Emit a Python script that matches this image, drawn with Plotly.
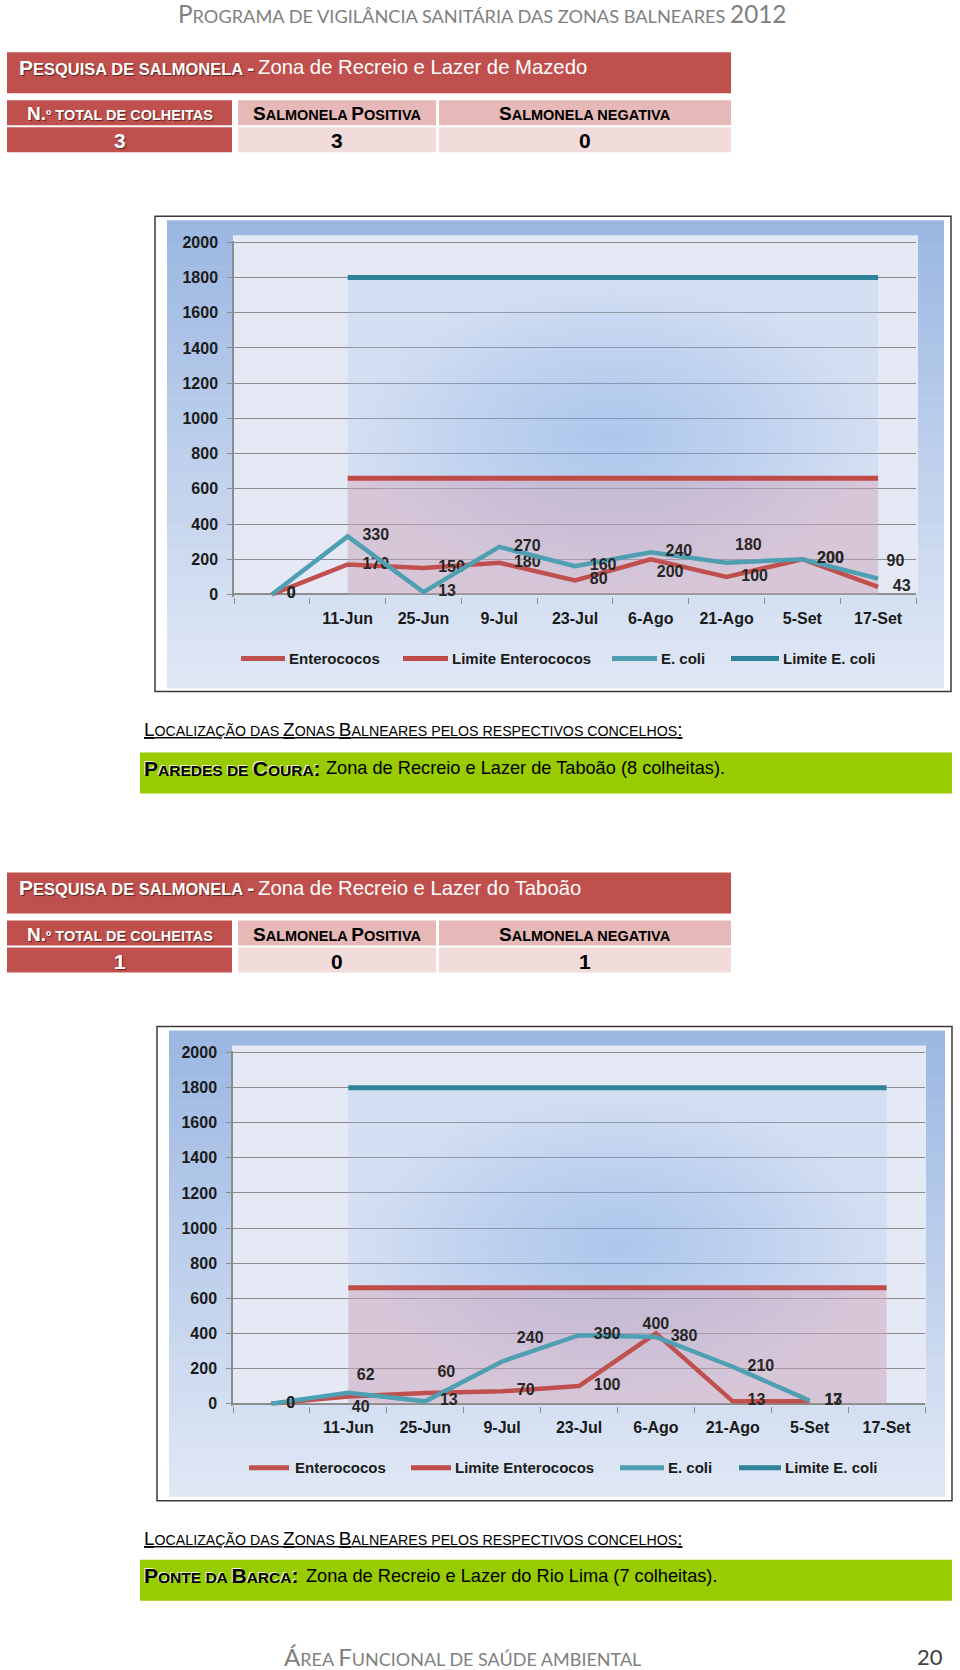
import plotly.graph_objects as go

W, H = 960, 1670

# ---------------- data ----------------
header_text = "Programa de vigilância sanitária das zonas balneares 2012"
footer_text = "Área Funcional de saúde ambiental"
page_number = "20"

table_cols = ["N.º total de colheitas", "Salmonela Positiva", "Salmonela negativa"]
table_prefix = "Pesquisa de salmonela -"
t1_title = "Zona de Recreio e Lazer de Mazedo"
t1_values = ["3", "3", "0"]
t2_title = "Zona de Recreio e Lazer do Taboão"
t2_values = ["1", "0", "1"]

loc_label = "Localização das Zonas Balneares pelos respectivos concelhos:"
loc1_bold = "Paredes de Coura:"
loc1_text = "Zona de Recreio e Lazer de Taboão (8 colheitas)."
loc2_bold = "Ponte da Barca:"
loc2_text = "Zona de Recreio e Lazer do Rio Lima (7 colheitas)."

categories = ["", "11-Jun", "25-Jun", "9-Jul", "23-Jul", "6-Ago", "21-Ago", "5-Set", "17-Set"]
series_names = ["Enterococos", "Limite Enterococos", "E. coli", "Limite E. coli"]
y_ticks = [0, 200, 400, 600, 800, 1000, 1200, 1400, 1600, 1800, 2000]

c1_enterococos = [0, 170, 150, 180, 80, 200, 100, 200, 43]
c1_ecoli = [0, 330, 13, 270, 160, 240, 180, 200, 90]
c1_lim_entero = [None, 660, 660, 660, 660, 660, 660, 660, 660]
c1_lim_ecoli = [None, 1800, 1800, 1800, 1800, 1800, 1800, 1800, 1800]

c2_enterococos = [0, 40, 60, 70, 100, 400, 13, 13, None]
c2_ecoli = [0, 62, 13, 240, 390, 380, 210, 17, None]
c2_lim_entero = [None, 660, 660, 660, 660, 660, 660, 660, 660]
c2_lim_ecoli = [None, 1800, 1800, 1800, 1800, 1800, 1800, 1800, 1800]

# label placement (style only): position and offset size per point
MR, TR, BR, TC = "middle right", "top right", "bottom right", "top center"
c1_ent_pos = [MR, MR, MR, MR, MR, BR, MR, MR, MR]
c1_ent_off = [22, 22, 22, 22, 22, 8, 22, 22, 22]
c1_eco_pos = [MR, MR, MR, MR, MR, MR, TR, MR, TR]
c1_eco_off = [22, 22, 22, 22, 22, 22, 12, 22, 12]
c2_ent_pos = [MR, BR, TR, MR, MR, TC, MR, MR, MR]
c2_ent_off = [22, 4, 18, 22, 22, 0, 22, 22, 22]
c2_eco_pos = [MR, TR, MR, TR, MR, MR, MR, MR, MR]
c2_eco_off = [22, 12, 22, 22, 22, 22, 22, 22, 22]

# ---------------- styles ----------------
RED = "#c0504d"
PINK_H = "#e6b8b7"
PINK_V = "#f2dcdb"
GREEN = "#99cc00"
C_ENT = "#c0504d"
C_LENT = "#bf4b48"
C_ECO = "#4f9fb3"
C_LECO = "#2f8399"
NARROW = "Liberation Sans, Arial, sans-serif"
SANS = "Liberation Sans, Arial, sans-serif"
HUM = "Lato, Open Sans, sans-serif"
VS = 0.992  # vertical compensation


def fx(px):
    return px / W


def fy(py):
    return 1 - (835 + (py - 835) / VS) / H


def sc(text, big, small):
    parts = []
    cur, buf = None, ""
    for ch in text:
        cls = "s" if (ch.islower() or ch == " ") else "b"
        if cur is not None and cls != cur:
            parts.append((cur, buf))
            buf = ""
        cur = cls
        buf += ch.upper() if cls == "s" else ch
    if buf:
        parts.append((cur, buf))
    return "".join(
        '<span style="font-size:%spx">%s</span>' % (big if c == "b" else small, t)
        for c, t in parts
    )


shapes = []
annotations = []


def rect(x0, y0, x1, y1, fill, line=None, lw=0, layer="below"):
    shapes.append(dict(type="rect", xref="paper", yref="paper",
                       x0=fx(x0), x1=fx(x1), y0=fy(y1), y1=fy(y0),
                       fillcolor=fill, layer=layer,
                       line=dict(color=line or fill, width=lw)))


def hline(x0, x1, y, color, width):
    shapes.append(dict(type="line", xref="paper", yref="paper",
                       x0=fx(x0), x1=fx(x1), y0=fy(y), y1=fy(y),
                       line=dict(color=color, width=width), layer="above"))


def text(x, y, s, size, color="#000", family=SANS, anchor="left", weight="normal", shadow="none"):
    annotations.append(dict(xref="paper", yref="paper", x=fx(x), y=fy(y), text=s,
                            showarrow=False, xanchor=anchor, yanchor="middle",
                            font=dict(size=size, color=color, family=family,
                                      weight=weight, shadow=shadow),
                            borderpad=0))


# header / footer
text(482, 13, sc(header_text, 24.3, 18.2), 18, "#808080", HUM, "center")
text(283, 1656, sc(footer_text, 24, 18), 18, "#808080", HUM, "left")
text(944, 1656, page_number, 22, "#404040", HUM, "right")


def table(top, title, values):
    rect(7, top, 731, top + 41, RED)
    text(18, top + 15, sc(table_prefix, 21, 16.5), 21, "#ffffff", NARROW, "left", "bold",
         "1px 1px 1px rgba(0,0,0,0.55)")
    text(257, top + 15, title, 20.3, "#ffffff", NARROW, "left")
    cols = [(7, 232), (238, 436), (439, 731)]
    r2 = (top + 48, top + 73)
    r3 = (top + 75, top + 100)
    for i, (a, b) in enumerate(cols):
        c_h = RED if i == 0 else PINK_H
        c_v = RED if i == 0 else PINK_V
        rect(a, r2[0], b, r2[1], c_h)
        rect(a, r3[0], b, r3[1], c_v)
        col_txt = "#ffffff" if i == 0 else "#000000"
        shd = "1px 1px 1px rgba(0,0,0,0.55)" if i == 0 else "none"
        text((a + b) / 2, (r2[0] + r2[1]) / 2 + 1, sc(table_cols[i], 19, 14.5), 19,
             col_txt, NARROW, "center", "bold", shd)
        text((a + b) / 2, (r3[0] + r3[1]) / 2 + 1, values[i], 21,
             col_txt, NARROW, "center", "bold", shd)


table(52, t1_title, t1_values)
table(872, t2_title, t2_values)


def location(label_y, bar_top, bold, rest, rest_x):
    text(143, label_y, "<u>" + sc(loc_label, 19, 14.2) + "</u>", 19, "#000000", NARROW, "left")
    rect(140, bar_top, 952, bar_top + 41, GREEN)
    text(143, bar_top + 16, sc(bold, 21, 15.5), 21, "#000000", NARROW, "left", "bold",
         "-1px -1px 0px rgba(255,255,255,0.9)")
    text(rest_x, bar_top + 16, rest, 18.2, "#000000", NARROW, "left")


location(729, 752, loc1_bold, loc1_text, 325)
location(1538, 1559, loc2_bold, loc2_text, 305)

# ---------------- charts ----------------
charts = [
    dict(frame=(155, 216, 951, 691), inner=(167, 220, 944, 688), xdom=(234, 916),
         y2000=242, y0=594, plot_top=235, plot_right=918,
         legend_y=658, legend=[(241, 285, 288), (403, 448, 451), (612, 657, 660), (731, 779, 782)],
         data=(c1_enterococos, c1_lim_entero, c1_ecoli, c1_lim_ecoli),
         pos=((c1_ent_pos, c1_ent_off), (c1_eco_pos, c1_eco_off))),
    dict(frame=(157, 1026, 952, 1500), inner=(169, 1030, 945, 1496), xdom=(233, 925),
         y2000=1052, y0=1403, plot_top=1045, plot_right=926,
         legend_y=1467, legend=[(249, 289, 294), (411, 451, 454), (620, 664, 667), (739, 781, 784)],
         data=(c2_enterococos, c2_lim_entero, c2_ecoli, c2_lim_ecoli),
         pos=((c2_ent_pos, c2_ent_off), (c2_eco_pos, c2_eco_off))),
]

fig = go.Figure()
x_idx = list(range(len(categories)))
Y_LO, Y_HI = -12, 2006
layout_axes = {}
LBL_FONT = dict(family=SANS, size=16, color="#262626", weight="bold")

for n, ch in enumerate(charts, start=1):
    fx0, fy0, fx1, fy1 = ch["frame"]
    rect(fx0, fy0, fx1, fy1, "#ffffff", "#3a3a3a", 1.5)
    ix0, iy0, ix1, iy1 = ch["inner"]
    nb = 40
    top_c = (155, 183, 226)
    bot_c = (224, 232, 245)
    for b in range(nb):
        t = b / (nb - 1)
        col = "rgb(%d,%d,%d)" % tuple(round(top_c[k] + (bot_c[k] - top_c[k]) * t) for k in range(3))
        ya = iy0 + (iy1 - iy0) * b / nb
        yb = iy0 + (iy1 - iy0) * (b + 1) / nb + 0.6
        rect(ix0, ya, ix1, min(yb, iy1), col)
    k = (ch["y0"] - ch["y2000"]) / 2000.0
    top_px = ch["y2000"] - (Y_HI - 2000) * k
    bot_px = ch["y0"] - Y_LO * k
    rect(ch["xdom"][0] - 1, ch["plot_top"], ch["plot_right"], ch["y0"], "#e4e9f5")

    xa = "x" if n == 1 else "x%d" % n
    ya_ = "y" if n == 1 else "y%d" % n
    ent, lent, eco, leco = ch["data"]
    (ent_pos, ent_off), (eco_pos, eco_off) = ch["pos"]

    fig.add_trace(go.Scatter(x=x_idx, y=leco, mode="lines", name=series_names[3],
                             xaxis=xa, yaxis=ya_, fill="tozeroy",
                             fillgradient=dict(type="radial", colorscale=[
                                 [0, "rgba(115,162,226,0.5)"],
                                 [0.6, "rgba(138,177,229,0.38)"],
                                 [1, "rgba(165,192,233,0.26)"]]),
                             line=dict(color=C_LECO, width=5), hoverinfo="skip"))
    fig.add_trace(go.Scatter(x=x_idx, y=lent, mode="lines", name=series_names[1],
                             xaxis=xa, yaxis=ya_, fill="tozeroy",
                             fillcolor="rgba(222,150,165,0.33)",
                             line=dict(color=C_LENT, width=5), hoverinfo="skip"))
    for vals, color, nm, pos, off in ((ent, C_ENT, series_names[0], ent_pos, ent_off),
                                      (eco, C_ECO, series_names[2], eco_pos, eco_off)):
        fig.add_trace(go.Scatter(x=x_idx, y=vals, mode="lines+markers+text", name=nm,
                                 xaxis=xa, yaxis=ya_,
                                 text=["" if v is None else str(v) for v in vals],
                                 textposition=pos, cliponaxis=False,
                                 textfont=LBL_FONT,
                                 marker=dict(size=off, color="rgba(0,0,0,0)", opacity=0,
                                             line=dict(width=0, color="rgba(0,0,0,0)")),
                                 line=dict(color=color, width=4.5), hoverinfo="skip"))

    layout_axes["xaxis" if n == 1 else "xaxis%d" % n] = dict(
        domain=[fx(ch["xdom"][0]), fx(ch["xdom"][1])], anchor=ya_,
        range=[-0.5, len(categories) - 0.5], showgrid=False, zeroline=False, showline=False,
        tickmode="array", tickvals=x_idx[1:], ticktext=categories[1:], ticks="",
        ticklabelstandoff=10,
        tickfont=dict(family=SANS, size=16, color="#1a1a1a", weight="bold"),
        minor=dict(tick0=0.5, dtick=1, ticks="outside", ticklen=6, tickwidth=1.3,
                   tickcolor="#8c8c8c", showgrid=False),
        fixedrange=True)
    layout_axes["yaxis" if n == 1 else "yaxis%d" % n] = dict(
        domain=[fy(bot_px), fy(top_px)], anchor=xa, range=[Y_LO, Y_HI],
        tickmode="array", tickvals=y_ticks, ticktext=[str(v) for v in y_ticks],
        showgrid=True, gridcolor="#8c8c8c", gridwidth=1.3,
        zeroline=True, zerolinecolor="#8c8c8c", zerolinewidth=1.5,
        showline=True, linecolor="#8c8c8c", linewidth=1.5,
        ticks="outside", ticklen=5, tickcolor="#8c8c8c", tickwidth=1.3,
        ticklabelstandoff=6,
        tickfont=dict(family=SANS, size=16, color="#1a1a1a", weight="bold"),
        fixedrange=True)

    leg_cols = [C_ENT, C_LENT, C_ECO, C_LECO]
    for (l0, l1, tx), col, nm in zip(ch["legend"], leg_cols, series_names):
        hline(l0, l1, ch["legend_y"], col, 5)
        text(tx, ch["legend_y"], nm, 15, "#1a1a1a", SANS, "left", "bold")

fig.update_layout(
    width=W, height=H, margin=dict(l=0, r=0, t=0, b=0),
    paper_bgcolor="#ffffff", plot_bgcolor="rgba(0,0,0,0)",
    showlegend=False, shapes=shapes, annotations=annotations,
    **layout_axes)

fig.write_html("out.html", config={"displayModeBar": False},
               post_script="document.body.style.margin='0';document.body.style.overflow='hidden';")
